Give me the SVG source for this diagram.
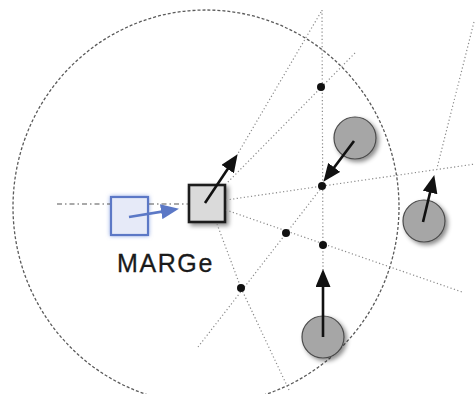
<svg xmlns="http://www.w3.org/2000/svg" width="475" height="394" viewBox="0 0 475 394">
  <style>
    .dot-line { fill: none; stroke: #8a8a8a; stroke-width: 1.2; stroke-dasharray: 1.2 2.4; }
    .range { fill: none; stroke: #5a5a5a; stroke-width: 1.3; stroke-dasharray: 3 2; }
    .dashdot { fill: none; stroke: #555; stroke-width: 1.2; stroke-dasharray: 5 3 1.5 3; }
    .arrow { fill: none; stroke: #111; stroke-width: 2.6; marker-end: url(#head); }
    .barrow { fill: none; stroke: #5b78c6; stroke-width: 2.6; marker-end: url(#bhead); }
    .agent { fill: #a6a6a6; stroke: #4a4a4a; stroke-width: 1.2; filter: url(#shadow); }
    .pt { fill: #111; }
    .label { font-family: "Liberation Sans", Arial, sans-serif; font-size: 25px; fill: #1a1a1a; letter-spacing: 1.6px; stroke: #1a1a1a; stroke-width: 0.3; }
  </style>
  <defs>
    <marker id="head" viewBox="0 0 18 15" markerWidth="18" markerHeight="15" refX="7" refY="7.5" markerUnits="userSpaceOnUse" orient="auto">
      <path d="M0,0 L18,7.5 L0,15 z" fill="#111"/>
    </marker>
    <marker id="bhead" viewBox="0 0 18 15" markerWidth="18" markerHeight="15" refX="7" refY="7.5" markerUnits="userSpaceOnUse" orient="auto">
      <path d="M0,0 L18,7.5 L0,15 z" fill="#5b78c6"/>
    </marker>
    <filter id="shadow" x="-30%" y="-30%" width="170%" height="170%">
      <feDropShadow dx="2.5" dy="2.5" stdDeviation="2" flood-color="#000" flood-opacity="0.45"/>
    </filter>
    <filter id="glow" x="-30%" y="-30%" width="160%" height="160%">
      <feDropShadow dx="0" dy="0" stdDeviation="2" flood-color="#7f9ae0" flood-opacity="0.8"/>
    </filter>
  </defs>

  <g id="range">
    <ellipse class="range" cx="206" cy="207" rx="193" ry="197"/>
  </g>

  <g id="marge">
    <rect x="111" y="197" width="37" height="38" fill="#e6eaf8" stroke="#5b78c6" stroke-width="2.2" filter="url(#glow)"/>
    <text class="label" x="117" y="272">MARGe</text>
  </g>

  <g id="robot">
    <rect x="189" y="185" width="36" height="37" fill="#dadada" stroke="#1a1a1a" stroke-width="2.6" filter="url(#shadow)"/>
  </g>

  <g id="agent1"><circle class="agent" cx="355" cy="138" r="21"/></g>
  <g id="agent2"><circle class="agent" cx="424" cy="221" r="21"/></g>
  <g id="agent3"><circle class="agent" cx="323" cy="337" r="21"/></g>

  <g id="connectors">
    <line class="dot-line" x1="322" y1="10" x2="323" y2="270"/>
    <line class="dot-line" x1="321" y1="12" x2="237" y2="155"/>
    <line class="dot-line" x1="355" y1="53" x2="227" y2="183"/>
    <line class="dot-line" x1="226" y1="200" x2="475" y2="164"/>
    <line class="dot-line" x1="226" y1="210" x2="462" y2="292"/>
    <line class="dot-line" x1="198" y1="347" x2="322" y2="187"/>
    <polyline class="dot-line" points="217,224 241,288 289,390"/>
    <line class="dot-line" x1="474" y1="22" x2="437" y2="168"/>
    <line class="dashdot" x1="57" y1="204" x2="110" y2="204"/>
    <line class="dashdot" x1="149" y1="204" x2="188" y2="204"/>

    <line class="barrow" x1="129" y1="217" x2="168.1" y2="210.6"/>
    <line class="arrow" x1="205" y1="203" x2="231.5" y2="163.3"/>
    <line class="arrow" x1="354" y1="141" x2="330" y2="173"/>
    <line class="arrow" x1="423" y1="222" x2="431.7" y2="185.7"/>
    <line class="arrow" x1="323" y1="337" x2="323" y2="280"/>
  </g>

  <g id="points">
    <circle class="pt" cx="321" cy="87" r="4"/>
    <circle class="pt" cx="322" cy="186" r="4"/>
    <circle class="pt" cx="286" cy="233" r="4"/>
    <circle class="pt" cx="323" cy="245" r="4"/>
    <circle class="pt" cx="241" cy="288" r="4"/>
  </g>
</svg>
